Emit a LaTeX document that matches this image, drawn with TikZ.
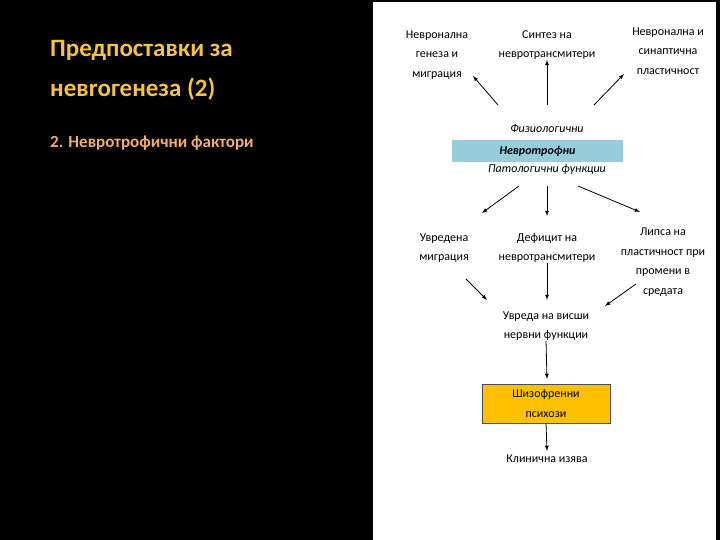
\documentclass[tikz,border=0pt]{standalone}
\usepackage{fontspec}
\setmainfont{Carlito}
\begin{document}
\begin{tikzpicture}[x=1pt,y=-1pt,
  lbl/.style={align=center,font=\fontsize{12}{19.5}\selectfont,inner sep=0pt},
  arr/.style={-latex,line width=0.8pt}]
\fill[black] (0,0) rectangle (720,540);
\useasboundingbox (0,0) rectangle (720,540);
\fill[white] (373,2) rectangle (716,540);
\node[anchor=west,text=yellow!60!orange!90!white,font=\fontsize{25}{40}\selectfont\bfseries,align=left,inner sep=0pt,text={rgb,255:red,245;green,194;blue,66}] (title) at (50,70) {Предпоставки за\\невrогенеза (2)};
\node[anchor=west,font=\fontsize{17}{20}\selectfont\bfseries,inner sep=0pt,text={rgb,255:red,245;green,170;blue,112}] (sub) at (50,143) {2. Невротрофични фактори};
\node[lbl] (a1) at (437,55) {Невронална\\генеза и\\миграция};
\node[lbl] (a2) at (547,45) {Синтез на\\невротрансмитери};
\node[lbl] (a3) at (668,51) {Невронална и\\синаптична\\пластичност};
\node[lbl,font=\fontsize{12}{14}\selectfont\itshape] (fiz) at (547,129) {Физиологични};
\node[fill={rgb,255:red,150;green,205;blue,218},minimum width=171pt,minimum height=22pt,inner sep=0pt,font=\fontsize{12}{14}\selectfont\bfseries\itshape] (nt) at (537.5,151) {Невротрофни};
\node[lbl,font=\fontsize{12}{14}\selectfont\itshape] (pat) at (547,169) {Патологични функции};
\node[lbl] (b1) at (444,248) {Увредена\\миграция};
\node[lbl] (b2) at (547,248) {Дефицит на\\невротрансмитери};
\node[lbl] (b3) at (663,262) {Липса на\\пластичност при\\промени в\\средата};
\node[lbl] (c) at (546,326) {Увреда на висши\\нервни функции};
\node[lbl,fill={rgb,255:red,255;green,192;blue,0},draw=black!70,minimum width=128pt,minimum height=39pt] (sz) at (546,403.5) {Шизофренни\\психози};
\node[lbl] (k) at (547,459) {Клинична изява};
\coordinate (p1) at (498,105); \coordinate (p2) at (547,105); \coordinate (p3) at (594,105);
\draw[arr] (p1) -- (473,76);
\draw[arr] (p2) -- (a2.south);
\draw[arr] (p3) -- (624,74);
\coordinate (q1) at (519,186); \coordinate (q2) at (547,186); \coordinate (q3) at (578,186);
\draw[arr] (q1) -- (482,213);
\draw[arr] (q2) -- (547,216);
\draw[arr] (q3) -- (640,212);
\coordinate (r1) at (466,279); \coordinate (r3) at (636,284);
\draw[arr] (r1) -- (487,300);
\draw[arr] (b2.south) -- (547,300);
\draw[arr] (r3) -- (605,306);
\draw[arr] (c.south) -- (547,379);
\draw[arr] (sz.south) -- (547,451);
\end{tikzpicture}
\end{document}
